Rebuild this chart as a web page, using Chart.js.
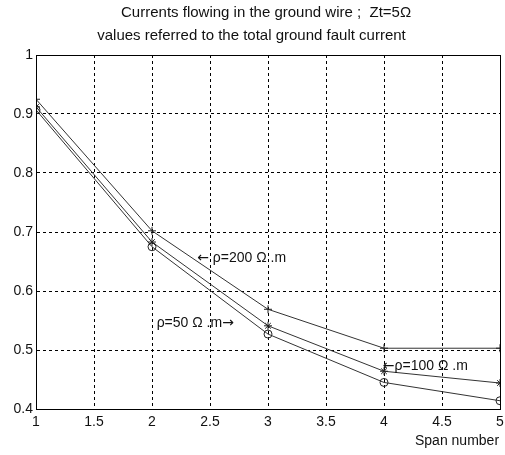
<!DOCTYPE html>
<html>
<head>
<meta charset="utf-8">
<script src="https://cdn.jsdelivr.net/npm/chart.js@4"></script>
<style>
  body { margin: 0; background: #fff; }
</style>
</head>
<body>
<canvas id="spanChart" width="505" height="455"></canvas>
<script>
var spans = [1, 2, 3, 4, 5];
var rho200 = [0.925, 0.702, 0.569, 0.503, 0.503];
var rho100 = [0.912, 0.683, 0.541, 0.464, 0.444];
var rho50 = [0.907, 0.675, 0.527, 0.445, 0.414];
var xTicks = [1, 1.5, 2, 2.5, 3, 3.5, 4, 4.5, 5];
var yTicks = [0.4, 0.5, 0.6, 0.7, 0.8, 0.9, 1];

// labels drawn next to the curves, in data units
var notes = [
  { text: '\u2190 \u03c1=200 \u03a9 .m', x: 2.39, y: 0.656 },
  { text: '\u03c1=50 \u03a9 .m\u2192', x: 2.04, y: 0.546 },
  { text: '\u2190\u03c1=100 \u03a9 .m', x: 3.99, y: 0.473 }
];

var FONT = '"Liberation Sans", Arial, sans-serif';

function toPoints(vals) {
  var pts = [];
  for (var i = 0; i < spans.length; i++) {
    pts.push({ x: spans[i], y: vals[i] });
  }
  return pts;
}

function series(vals, style, r) {
  return {
    data: toPoints(vals),
    borderColor: '#333',
    borderWidth: 1,
    pointStyle: style,
    pointRadius: r,
    pointBorderColor: '#222',
    pointBackgroundColor: 'rgba(0,0,0,0)',
    pointBorderWidth: 1,
    tension: 0
  };
}

// writes a note, arrows in a font where they come out bigger
function drawNote(ctx, text, x, y) {
  for (var i = 0; i < text.length; i++) {
    var ch = text[i];
    ctx.font = (ch === '\u2190' || ch === '\u2192') ? '14px "DejaVu Sans"' : '14px ' + FONT;
    ctx.fillText(ch, x, y);
    x += ctx.measureText(ch).width;
  }
}

// solid box round the plot, curve labels and the x axis name
var framePlugin = {
  id: 'frame',
  afterDatasetsDraw: function(chart) {
    var ctx = chart.ctx;
    var a = chart.chartArea;
    ctx.save();
    ctx.setLineDash([]);
    ctx.strokeStyle = '#000';
    ctx.lineWidth = 1;
    ctx.strokeRect(a.left + 0.5, a.top + 0.5, a.right - a.left, a.bottom - a.top);
    ctx.fillStyle = '#111';
    ctx.textBaseline = 'middle';
    ctx.textAlign = 'left';
    var xs = chart.scales.x, ys = chart.scales.y;
    for (var i = 0; i < notes.length; i++) {
      drawNote(ctx, notes[i].text, xs.getPixelForValue(notes[i].x), ys.getPixelForValue(notes[i].y));
    }
    ctx.font = '14px ' + FONT;
    ctx.fillText('Span number', a.right - 85, a.bottom + 32);
    ctx.restore();
  }
};

var ctx = document.getElementById('spanChart').getContext('2d');
var spanChart = new Chart(ctx, {
  type: 'line',
  data: {
    datasets: [series(rho200, 'cross', 4), series(rho100, 'star', 4), series(rho50, 'circle', 4)]
  },
  options: {
    responsive: false,
    animation: false,
    layout: { padding: { left: 0, right: 2, top: 0, bottom: 0 } },
    plugins: {
      legend: { display: false },
      tooltip: { enabled: false },
      title: {
        display: true,
        text: ['       Currents flowing in the ground wire ;  Zt=5\u03a9', 'values referred to the total ground fault current'],
        color: '#111',
        font: { family: FONT, size: 15, weight: 'normal', lineHeight: 1.5 },
        padding: { top: 2, bottom: 8 }
      }
    },
    scales: {
      x: {
        type: 'linear',
        min: 1,
        max: 5,
        afterBuildTicks: function(s) { s.ticks = xTicks.map(function(v) { return { value: v }; }); },
        afterFit: function(s) { s.height = 46; s.paddingLeft = 0; s.paddingRight = 0; },
        ticks: {
          color: '#111',
          padding: 5,
          maxRotation: 0,
          font: { family: FONT, size: 14 },
          callback: function(v) { return String(v); }
        },
        grid: { color: '#000', drawTicks: false, borderDash: [3, 3] },
        border: { display: true, color: '#000', dash: [3, 3] }
      },
      y: {
        min: 0.4,
        max: 1,
        afterBuildTicks: function(s) { s.ticks = yTicks.map(function(v) { return { value: v }; }); },
        afterFit: function(s) { s.width = 36; s.paddingTop = 0; s.paddingBottom = 0; },
        ticks: {
          color: '#111',
          padding: 3,
          font: { family: FONT, size: 14 },
          callback: function(v) { return String(v); }
        },
        grid: { color: '#000', drawTicks: false, borderDash: [3, 3] },
        border: { display: true, color: '#000', dash: [3, 3] }
      }
    }
  },
  plugins: [framePlugin]
});
</script>
</body>
</html>
